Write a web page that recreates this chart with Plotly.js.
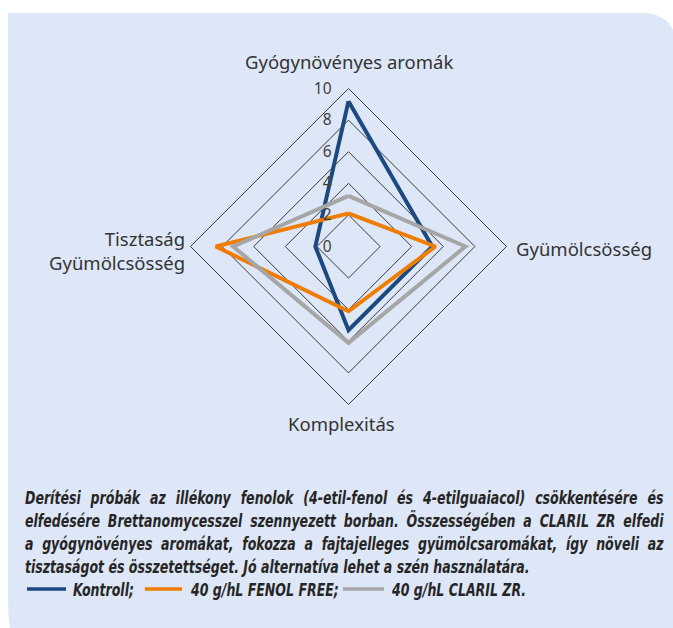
<!DOCTYPE html>
<html><head><meta charset="utf-8">
<script src="https://cdn.plot.ly/plotly-3.0.1.min.js"></script>
<style>html,body{margin:0;padding:0;background:#fff}#chart{width:673px;height:628px}</style>
</head><body><div id="chart"></div>
<script>
// ---- data ----
const categories = ['Gyógynövényes aromák', 'Gyümölcsösség', 'Komplexitás', 'Tisztaság<br>Gyümölcsösség'];
const kontroll  = [9.2, 5.3, 5.3, 2.1];
const fenolFree = [2.1, 5.5, 4.1, 8.4];
const clarilZR  = [3.2, 7.4, 6.1, 7.3];
const seriesNames = ['Kontroll;', '40 g/hL FENOL FREE;', '40 g/hL CLARIL ZR.'];
const seriesColors = ['#1c4a80', '#f07d00', '#a6a6a6'];
const radialTicks = [0, 2, 4, 6, 8, 10];
const captionLines = [
  'Derítési próbák az illékony fenolok (4-etil-fenol és 4-etilguaiacol) csökkentésére és',
  'elfedésére Brettanomycesszel szennyezett borban. Összességében a CLARIL ZR elfedi',
  'a gyógynövényes aromákat, fokozza a fajtajelleges gyümölcsaromákat, így növeli az',
  'tisztaságot és összetettséget. Jó alternatíva lehet a szén használatára.'
];

const W = 673, H = 628;
const px = x => x / W;
const py = y => 1 - y / H;

function closed(a) { return a.concat([a[0]]); }
const seriesValues = [kontroll, fenolFree, clarilZR];
const traces = seriesValues.map((v, i) => ({
  type: 'scatterpolar', mode: 'lines',
  r: closed(v), theta: closed(categories),
  name: seriesNames[i],
  line: {color: seriesColors[i], width: 4},
  showlegend: false, hoverinfo: 'skip'
}));

const catFont = {family: 'Noto Sans', size: 18.5, color: '#333333'};
// category label placement (pixel anchor, anchors)
const catPos = [
  {x: 349, y: 62, xa: 'center', ya: 'middle', al: 'center'},
  {x: 515, y: 248, xa: 'left', ya: 'middle', al: 'left'},
  {x: 341, y: 423, xa: 'center', ya: 'middle', al: 'center'},
  {x: 186, y: 250, xa: 'right', ya: 'middle', al: 'right'}
];
const annotations = categories.map((c, i) => ({
  text: c, xref: 'paper', yref: 'paper', x: px(catPos[i].x), y: py(catPos[i].y),
  xanchor: catPos[i].xa, yanchor: catPos[i].ya, align: catPos[i].al,
  showarrow: false, borderpad: 0, font: catFont
}));
const nCat = annotations.length;

const capFont = {family: 'Liberation Sans Narrow, DejaVu Sans Condensed, Liberation Sans, sans-serif', size: 18.5, color: '#262626', weight: 'bold', style: 'italic'};
const lineYs = [497, 520, 543, 566];
captionLines.forEach((t, i) => annotations.push({
  text: t, xref: 'paper', yref: 'paper', x: px(24), y: py(lineYs[i]),
  xanchor: 'left', yanchor: 'middle', align: 'left', showarrow: false, borderpad: 0,
  font: capFont
}));
const legX = [[27, 66], [145, 182], [343, 384]];
const legTextX = [72, 189, 390];
const legY = 589;
seriesNames.forEach((n, i) => annotations.push({
  text: n, xref: 'paper', yref: 'paper', x: px(legTextX[i]), y: py(legY),
  xanchor: 'left', yanchor: 'middle', align: 'left', showarrow: false, borderpad: 0,
  font: capFont
}));

// panel path (pixel coords -> paper)
function P(x, y) { return px(x).toFixed(5) + ',' + py(y).toFixed(5); }
const panelPath = 'M' + P(8, 13) + ' L' + P(640, 13) + ' Q' + P(677, 13) + ' ' + P(677, 50) +
  ' L' + P(677, 660) + ' L' + P(36, 660) + ' Q' + P(8, 660) + ' ' + P(8, 600) + ' Z';
const shapes = [{
  type: 'path', xref: 'paper', yref: 'paper', path: panelPath,
  fillcolor: '#dee7f7', line: {width: 0}, layer: 'below'
}];
legX.forEach((xx, i) => shapes.push({
  type: 'line', xref: 'paper', yref: 'paper',
  x0: px(xx[0]), x1: px(xx[1]), y0: py(legY), y1: py(legY),
  line: {color: seriesColors[i], width: 3.5}
}));

const cx = 348.5, cy = 246.5, R = 158;
const layout = {
  width: W, height: H,
  margin: {l: 0, r: 0, t: 0, b: 0},
  paper_bgcolor: '#ffffff',
  showlegend: false,
  polar: {
    domain: {x: [px(cx - R), px(cx + R)], y: [py(cy + R), py(cy - R)]},
    bgcolor: 'rgba(0,0,0,0)',
    gridshape: 'linear',
    radialaxis: {
      range: [0, 10], tickvals: radialTicks, angle: 90, side: 'counterclockwise',
      tickangle: 90,
      showline: false, gridcolor: '#3a3a3a', gridwidth: 1,
      ticks: 'outside', ticklen: 11, tickcolor: 'rgba(0,0,0,0)',
      tickfont: {family: 'Noto Sans', size: 15.5, color: '#404040'}
    },
    angularaxis: {
      rotation: 90, direction: 'clockwise', showgrid: false, showticklabels: false,
      showline: true, linecolor: '#3a3a3a', linewidth: 1, ticks: ''
    }
  },
  annotations: annotations,
  shapes: shapes
};

Plotly.newPlot('chart', traces, layout, {staticPlot: true}).then(function () {
  const nCap = captionLines.length;
  function textEl(i) { return document.querySelector('g.annotation[data-index="' + i + '"] text.annotation-text'); }
  const last = textEl(nCat + nCap - 1);
  const c = 505 / last.getComputedTextLength();
  const target = 639;
  for (let k = 0; k < nCap + seriesNames.length; k++) {
    const t = textEl(nCat + k);
    if (!t) continue;
    const w = t.getComputedTextLength();
    const x0 = parseFloat(t.getAttribute('x')) || 0;
    t.setAttribute('transform', 'translate(' + x0 + ',0) scale(' + c + ',1) translate(' + (-x0) + ',0)');
    if (k < nCap - 1) {
      const n = t.textContent.split(' ').length - 1;
      const ws = (target - c * w) / (c * n);
      t.style.wordSpacing = ws + 'px';
    }
  }
});
</script>
</body></html>
